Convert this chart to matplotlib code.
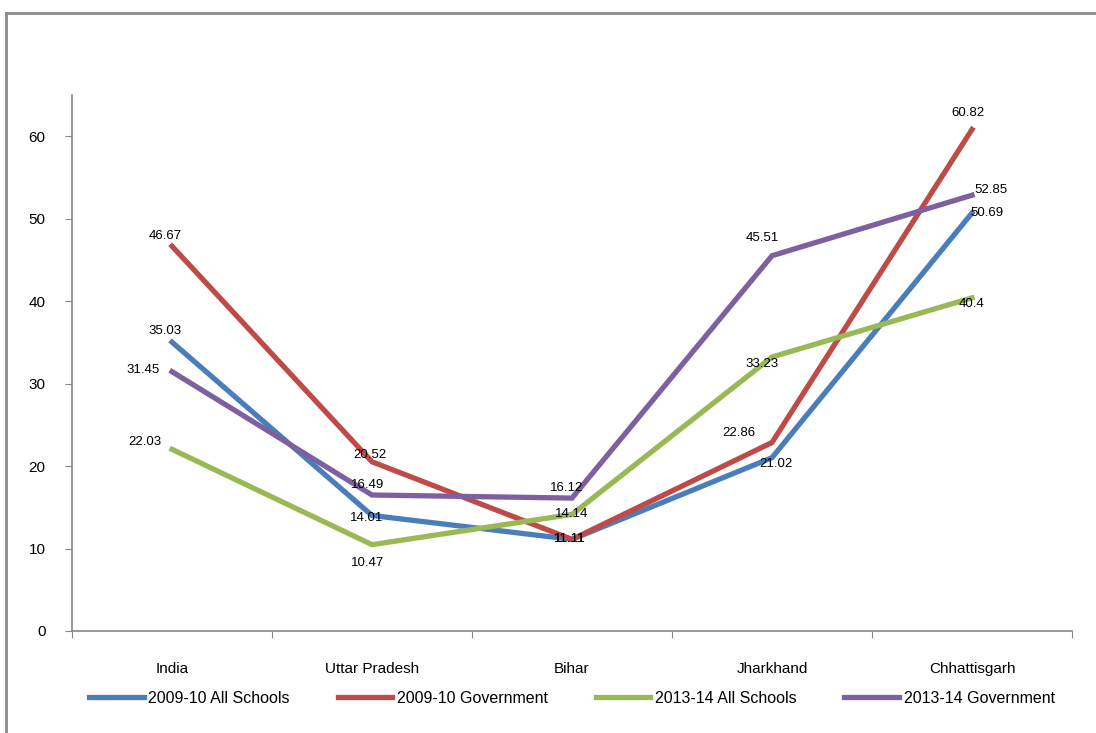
import numpy as np
import matplotlib.pyplot as plt
from matplotlib.lines import Line2D

# * data
states = ['India', 'Uttar Pradesh', 'Bihar', 'Jharkhand', 'Chhattisgarh']
all_0910 = [35.03, 14.01, 11.11, 21.02, 50.69]
gov_0910 = [46.67, 20.52, 11.11, 22.86, 60.82]
all_1314 = [22.03, 10.47, 14.14, 33.23, 40.4]
gov_1314 = [31.45, 16.49, 16.12, 45.51, 52.85]

series = [
    ('2009-10 All Schools', all_0910, '#4A7EBB'),
    ('2009-10 Government', gov_0910, '#BE4B48'),
    ('2013-14 All Schools', all_1314, '#98B954'),
    ('2013-14 Government', gov_1314, '#7D60A0'),
]

# label offsets (points) per series, per state
offsets = [
    [(-5, 8), (-3.5, -1.5), (-1.5, 0), (3, -4.5), (11, 0)],
    [(-5, 7), (-1.5, 5), (-1.5, 0), (-24, 6.5), (-3, 11.5)],
    [(-19.5, 5), (-3.5, -13.5), (0, 0), (-7, -5), (0, -4.5)],
    [(-21, 1.5), (-3.5, 7), (-4, 7), (-7, 13), (14, 4)],
]

plt.rcParams['font.family'] = ['Liberation Sans', 'DejaVu Sans']

fig = plt.figure(figsize=(10.96, 7.33), dpi=100)
ax = fig.add_axes([72 / 1096, 102 / 733, 1000 / 1096, 536 / 733])

x = np.arange(len(states))
for (name, vals, col), offs in zip(series, offsets):
    ax.plot(x, vals, color=col, lw=3.8, label=name, solid_joinstyle='miter')
    for xi, v, o in zip(x, vals, offs):
        ax.annotate(f'{v:g}', (xi, v), xytext=o, textcoords='offset points',
                    ha='center', va='center', fontsize=9.5, color='black')

ax.set_xlim(-0.5, 4.5)
ax.set_ylim(0, 65)
ax.set_yticks(range(0, 61, 10))
ax.set_xticks(np.arange(-0.5, 4.6, 1))
ax.set_xticklabels([])
ax.set_xticks(x, minor=True)
ax.set_xticklabels(states, minor=True)
ax.tick_params(axis='x', which='minor', length=0, pad=22, labelsize=11)
ax.tick_params(axis='x', which='major', length=5, color='#888888', direction='out')
ax.tick_params(axis='y', length=5, color='#888888', labelsize=11, pad=14)
for s in ['top', 'right']:
    ax.spines[s].set_visible(False)
for s in ['left', 'bottom']:
    ax.spines[s].set_color('#888888')
    ax.spines[s].set_linewidth(1.2)

ax.legend(loc='upper center', bbox_to_anchor=(0.5, -0.085), ncol=4, frameon=False,
          fontsize=11.5, handlelength=3.4, columnspacing=3.0, handletextpad=0.3)

# outer frame (left and top edges visible)
fig.add_artist(Line2D([6 / 1096, 6 / 1096], [0, 1 - 13 / 733], color='#8a8a8a', lw=2,
                      transform=fig.transFigure))
fig.add_artist(Line2D([6 / 1096, 1], [1 - 13 / 733, 1 - 13 / 733], color='#8a8a8a', lw=2,
                      transform=fig.transFigure))

fig.savefig('out.png', dpi=100)
